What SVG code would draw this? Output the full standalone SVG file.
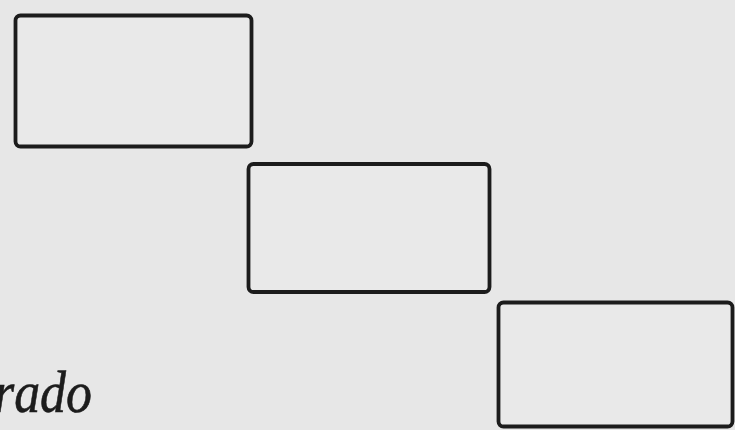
<svg xmlns="http://www.w3.org/2000/svg" width="735" height="430" viewBox="0 0 735 430">
<style>
.box{fill:#e9e9e9;stroke:#1c1c1c;stroke-width:3.8}
.lbl{font-family:"Liberation Serif","Times New Roman",serif;font-style:italic;font-size:59px;fill:#1c1c1c;stroke:#1c1c1c;stroke-width:0.6}
</style>
<rect x="0" y="0" width="735" height="430" fill="#e7e7e7"/>
<g id="box1"><rect class="box" x="15.5" y="15.5" width="236" height="131" rx="5"/></g>
<g id="box2"><rect class="box" x="248.5" y="164" width="241" height="128" rx="5"/></g>
<g id="box3"><rect class="box" x="498.5" y="302.5" width="234" height="124" rx="5"/></g>
<g id="connectors"></g>
<text class="lbl" x="-6" y="412" textLength="98" lengthAdjust="spacingAndGlyphs">rado</text>
</svg>
